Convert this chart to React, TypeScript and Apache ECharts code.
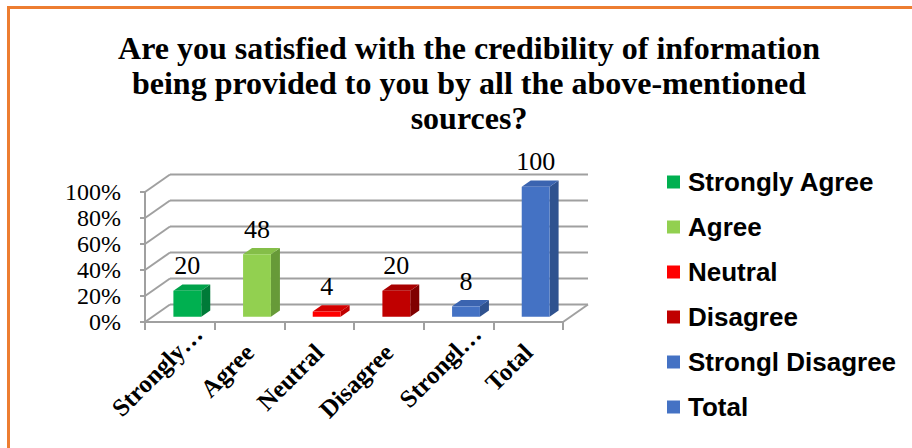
import React, { useEffect, useRef } from "react";
import * as echarts from "echarts";

const categories = ["Strongly Agree", "Agree", "Neutral", "Disagree", "Strongl Disagree", "Total"];
const tickLabels = ["Strongly…", "Agree", "Neutral", "Disagree", "Strongl…", "Total"];
const values = [20, 48, 4, 20, 8, 100];
const yTicks = [0, 20, 40, 60, 80, 100];
const titleText = "Are you satisfied with the credibility of information\nbeing provided to you by all the above-mentioned\nsources?";

const frontColors = ["#00B050", "#92D050", "#FF0000", "#C00000", "#4472C4", "#4472C4"];
const sideColors = ["#007A38", "#679A38", "#BF0000", "#800000", "#2F528F", "#2F528F"];
const topColors = ["#00A24A", "#84BE48", "#D40000", "#A80000", "#3B64B0", "#3B64B0"];

const SERIF = '"Times New Roman", "Liberation Serif", serif';
const SANS = 'Arial, "Liberation Sans", sans-serif';
const GRAY = "#A0A0A0";
const DX = 25;
const DY = -17.5;
const BAR_FRONT = 0.3;
const BAR_DEPTH = 0.36;

const xLabelFont = { fontFamily: SERIF, fontWeight: "bold" as const, fontSize: 25, color: "#000" };

export default function App() {
  const ref = useRef<HTMLDivElement>(null);
  useEffect(() => {
    document.body.style.margin = "0";
    const chart = echarts.init(ref.current!, null, { renderer: "svg" });

    const wallSeries: any = {
      type: "custom",
      name: "wall",
      silent: true,
      z: 1,
      data: yTicks.map((v) => [0, v]),
      renderItem: (params: any, api: any) => {
        const cs = params.coordSys;
        const v = api.value(1);
        const y = api.coord([0, v])[1];
        const L = cs.x;
        const R = cs.x + cs.width;
        const st = { stroke: GRAY, lineWidth: 2, fill: null };
        const children: any[] = [
          { type: "line", shape: { x1: L, y1: y, x2: L + DX, y2: y + DY }, style: st },
          { type: "line", shape: { x1: L + DX, y1: y + DY, x2: R + DX, y2: y + DY }, style: st },
        ];
        if (v === 0) {
          children.push({ type: "line", shape: { x1: R, y1: y, x2: R + DX, y2: y + DY }, style: st });
        }
        return { type: "group", children };
      },
    };

    const barSeries = categories.map((name, i) => ({
      type: "custom",
      name,
      z: 3,
      itemStyle: { color: frontColors[i] },
      data: [[i, values[i]]],
      encode: { x: 0, y: 1 },
      renderItem: (params: any, api: any) => {
        const idx = api.value(0);
        const v = api.value(1);
        const base = api.coord([idx, 0]);
        const top = api.coord([idx, v]);
        const band = api.size([1, 0])[0];
        const w = band * 0.4;
        const x0 = base[0] - w / 2 + DX * BAR_FRONT;
        const x1 = x0 + w;
        const yb = base[1] + DY * BAR_FRONT;
        const yt = top[1] + DY * BAR_FRONT;
        const bdx = DX * BAR_DEPTH;
        const bdy = DY * BAR_DEPTH;
        return {
          type: "group",
          children: [
            {
              type: "polygon",
              shape: { points: [[x1, yb], [x1 + bdx, yb + bdy], [x1 + bdx, yt + bdy], [x1, yt]] },
              style: { fill: sideColors[i] },
            },
            {
              type: "polygon",
              shape: { points: [[x0, yt], [x0 + bdx, yt + bdy], [x1 + bdx, yt + bdy], [x1, yt]] },
              style: { fill: topColors[i] },
            },
            {
              type: "rect",
              shape: { x: x0, y: yt, width: w, height: yb - yt },
              style: { fill: frontColors[i] },
            },
            {
              type: "text",
              x: (x0 + x1) / 2,
              y: yt - 25,
              style: {
                text: String(v),
                fill: "#000",
                font: `26px ${SERIF}`,
                textAlign: "center",
                textVerticalAlign: "middle",
              },
            },
          ],
        };
      },
    }));

    chart.setOption({
      animation: false,
      backgroundColor: "#fff",
      title: {
        text: titleText,
        left: 469,
        top: 30,
        padding: 0,
        textAlign: "center",
        textStyle: {
          fontFamily: SERIF,
          fontWeight: "bold",
          fontSize: 32,
          lineHeight: 35,
          color: "#000",
        },
      },
      legend: {
        orient: "vertical",
        left: 667,
        top: 169,
        padding: 0,
        itemWidth: 13,
        itemHeight: 13,
        itemGap: 19,
        icon: "rect",
        data: categories,
        selectedMode: false,
        textStyle: {
          fontFamily: SANS,
          fontWeight: "bold",
          fontSize: 26,
          color: "#000",
          padding: [0, 0, 0, 3],
        },
      },
      grid: { left: 145, top: 192, width: 418, height: 130, containLabel: false },
      xAxis: {
        type: "category",
        data: categories,
        boundaryGap: true,
        axisLine: { show: true, lineStyle: { color: GRAY, width: 2 } },
        axisTick: { show: true, length: 8, lineStyle: { color: GRAY, width: 2 } },
        axisLabel: {
          rotate: 45,
          interval: 0,
          margin: 5,
          verticalAlign: "top",
          padding: [2.5, 0, 0, 0],
          ...xLabelFont,
          formatter: (_v: string, idx: number) =>
            tickLabels[idx].endsWith("…") ? `{t|${tickLabels[idx]}}` : `{n|${tickLabels[idx]}}`,
          rich: {
            t: { ...xLabelFont, padding: [0, -11, 0, 0] },
            n: { ...xLabelFont, padding: [0, 15, 0, 0] },
          },
        },
        splitLine: { show: false },
      },
      yAxis: {
        type: "value",
        min: 0,
        max: 100,
        interval: 20,
        axisLine: { show: true, lineStyle: { color: GRAY, width: 2 } },
        axisTick: { show: true, length: 5, lineStyle: { color: GRAY, width: 2 } },
        axisLabel: {
          margin: 24,
          fontFamily: SERIF,
          fontSize: 24,
          color: "#000",
          formatter: "{value}%",
        },
        splitLine: { show: false },
      },
      graphic: [
        {
          type: "rect",
          left: 6,
          top: 5,
          z: 100,
          silent: true,
          shape: { x: 0, y: 0, width: 930, height: 470 },
          style: { fill: null, stroke: "#ED7D31", lineWidth: 3 },
        },
      ],
      series: [wallSeries, ...barSeries],
    });
    return () => chart.dispose();
  }, []);
  return <div ref={ref} style={{ position: "absolute", left: 0, top: 0, width: 912, height: 448 }} />;
}
